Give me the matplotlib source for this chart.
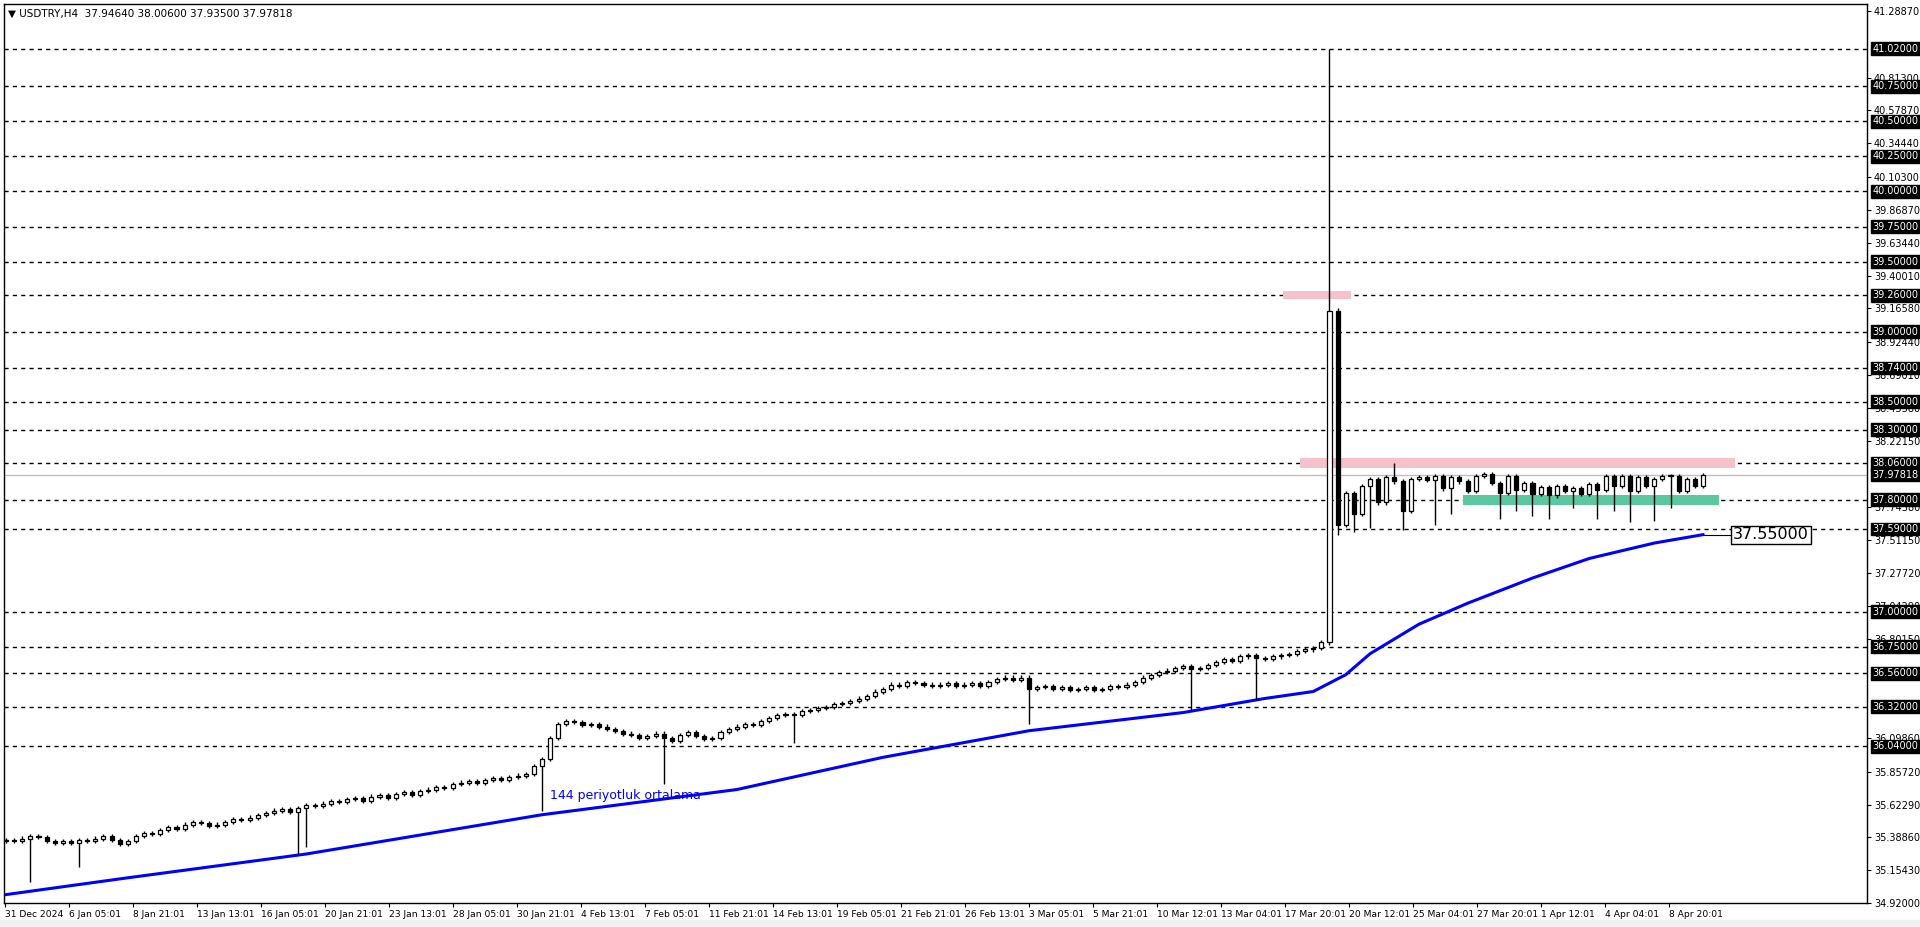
import numpy as np
import matplotlib.pyplot as plt
from matplotlib.patches import Rectangle

# H4 closes (one bar per index), open = previous close
closes = [
    35.37, 35.36, 35.38, 35.40, 35.39, 35.36, 35.35, 35.36,
    35.35, 35.37, 35.36, 35.38, 35.40, 35.37, 35.34, 35.36,
    35.40, 35.42, 35.41, 35.44, 35.46, 35.45, 35.48, 35.50,
    35.49, 35.47, 35.48, 35.50, 35.52, 35.51, 35.53, 35.55,
    35.56, 35.58, 35.59, 35.57, 35.60, 35.62, 35.61, 35.63,
    35.65, 35.64, 35.66, 35.67, 35.65, 35.68, 35.69, 35.67,
    35.70, 35.71, 35.69, 35.72, 35.73, 35.75, 35.74, 35.77,
    35.78, 35.79, 35.78, 35.80, 35.81, 35.80, 35.82, 35.83,
    35.84, 35.90, 35.95, 36.10, 36.20, 36.22, 36.21, 36.19,
    36.20, 36.18, 36.16, 36.15, 36.13, 36.12, 36.10, 36.11,
    36.13, 36.10, 36.08, 36.12, 36.14, 36.11, 36.09, 36.10,
    36.14, 36.16, 36.18, 36.20, 36.19, 36.22, 36.24, 36.26,
    36.27, 36.26, 36.29, 36.30, 36.31, 36.32, 36.34, 36.35,
    36.36, 36.38, 36.40, 36.43, 36.45, 36.48, 36.47, 36.50,
    36.49, 36.48, 36.47, 36.48, 36.49, 36.47, 36.48, 36.49,
    36.47, 36.50, 36.52, 36.53, 36.51, 36.53, 36.45, 36.46,
    36.47, 36.45, 36.46, 36.44, 36.45, 36.46, 36.44, 36.45,
    36.47, 36.46, 36.48, 36.50, 36.53, 36.55, 36.57, 36.58,
    36.60, 36.61, 36.59, 36.60, 36.62, 36.64, 36.66, 36.65,
    36.68, 36.69, 36.67, 36.66, 36.68, 36.69, 36.70, 36.72,
    36.73, 36.74, 36.78, 39.15,
    37.62, 37.85, 37.70, 37.90, 37.95, 37.78, 37.96, 37.93, 37.72, 37.95,
    37.96, 37.94, 37.97, 37.88, 37.96, 37.93, 37.86, 37.97, 37.98, 37.92,
    37.85, 37.97, 37.87, 37.92, 37.84, 37.89, 37.83, 37.90, 37.86, 37.88,
    37.84, 37.91, 37.87, 37.97, 37.90, 37.97, 37.86, 37.96, 37.90, 37.95,
    37.97, 37.97, 37.86, 37.95, 37.90, 37.978,
]
first_open = 35.36

# long wicks: index -> (high, low); None keeps the body edge
wicks = {
    3: (None, 35.07), 9: (None, 35.18), 36: (None, 35.27), 37: (None, 35.32),
    66: (None, 35.58), 81: (None, 35.77), 97: (None, 36.06), 126: (None, 36.20),
    146: (None, 36.29), 154: (None, 36.37), 163: (41.02, None), 164: (None, 37.55),
    166: (None, 37.57), 168: (None, 37.60), 171: (38.06, None), 172: (None, 37.58),
    176: (None, 37.62), 178: (None, 37.70), 184: (None, 37.66), 186: (None, 37.72),
    188: (None, 37.68), 190: (None, 37.66), 193: (None, 37.74), 196: (None, 37.66),
    198: (None, 37.72), 200: (None, 37.64), 203: (None, 37.65), 205: (None, 37.74),
}

# 144 period moving average
ma_idx = [0, 15, 37, 66, 90, 108, 126, 145, 155, 161, 165, 168, 174, 180, 188, 195, 203, 209]
ma_val = [34.98, 35.10, 35.27, 35.55, 35.73, 35.96, 36.15, 36.28, 36.38, 36.43,
          36.55, 36.70, 36.91, 37.06, 37.24, 37.38, 37.49, 37.55]

levels = [41.02, 40.75, 40.50, 40.25, 40.00, 39.75, 39.50, 39.26, 39.00, 38.74,
          38.50, 38.30, 38.06, 37.80, 37.59, 37.00, 36.75, 36.56, 36.32, 36.04]
scale_ticks = [41.2887, 40.8130, 40.5787, 40.3444, 40.1030, 39.8687, 39.6344, 39.4001,
               39.1658, 38.9244, 38.6901, 38.4558, 38.2215, 37.7458, 37.5115, 37.2772,
               37.0429, 36.8015, 36.0986, 35.8572, 35.6229, 35.3886, 35.1543, 34.9200]
last_price = 37.97818

date_labels = ["31 Dec 2024", "6 Jan 05:01", "8 Jan 21:01", "13 Jan 13:01", "16 Jan 05:01",
               "20 Jan 21:01", "23 Jan 13:01", "28 Jan 05:01", "30 Jan 21:01", "4 Feb 13:01",
               "7 Feb 05:01", "11 Feb 21:01", "14 Feb 13:01", "19 Feb 05:01", "21 Feb 21:01",
               "26 Feb 13:01", "3 Mar 05:01", "5 Mar 21:01", "10 Mar 12:01", "13 Mar 04:01",
               "17 Mar 20:01", "20 Mar 12:01", "25 Mar 04:01", "27 Mar 20:01", "1 Apr 12:01",
               "4 Apr 04:01", "8 Apr 20:01"]

W, H = 1920, 927
fig = plt.figure(figsize=(W / 100, H / 100), dpi=100)
fig.patch.set_facecolor("white")
ax = fig.add_axes([4 / W, (H - 903) / H, 1863 / W, 899 / H])
px = (1703 - 6) / 209  # pixels per bar
ax.set_xlim(-2 / px, 209 + (1867 - 1703) / px)
ax.set_ylim(34.92, 41.2887 + 7 * 0.00714)

for lv in levels:
    ax.axhline(lv, color="black", lw=1, ls=(0, (3, 3)), zorder=1)
ax.axhline(last_price, color="#c0c0c0", lw=1, zorder=1)

# zones
ax.add_patch(Rectangle((157.3, 39.26 - 0.03), 8.3, 0.06, color="#f7c1cb", zorder=2, lw=0))
ax.add_patch(Rectangle((159.4, 38.06 - 0.035), 53.6, 0.07, color="#f7c1cb", zorder=2, lw=0))
ax.add_patch(Rectangle((179.4, 37.80 - 0.035), 31.6, 0.07, color="#5cc8a0", zorder=2, lw=0))

# candles
opens = [first_open] + closes[:-1]
for i, (o, c) in enumerate(zip(opens, closes)):
    hi, lo = max(o, c) + 0.015, min(o, c) - 0.015
    if i in wicks:
        h2, l2 = wicks[i]
        hi = h2 if h2 is not None else hi
        lo = l2 if l2 is not None else lo
    ax.vlines(i, lo, hi, color="black", lw=1, zorder=4)
    bot, ht = min(o, c), max(abs(c - o), 0.004)
    ax.add_patch(Rectangle((i - 0.25, bot), 0.5, ht, facecolor="white" if c >= o else "black",
                           edgecolor="black", lw=0.9, zorder=5))

ax.plot(ma_idx, ma_val, color="#0000ff", lw=2.2, zorder=3)
ax.text(67, 35.66, "144 periyotluk ortalama", color="#0000ff", fontsize=9, zorder=6)
ax.plot([209, 212.6], [37.55, 37.55], color="black", lw=0.8, clip_on=False, zorder=6)
ax.text(212.7, 37.55, "37.55000", fontsize=11.5, va="center", ha="left", zorder=7,
        bbox=dict(boxstyle="square,pad=0.1", fc="white", ec="black", lw=1))

# right price scale
ax.yaxis.tick_right()
ax.set_yticks(scale_ticks)
ax.set_yticklabels([f"{v:.5f}" for v in scale_ticks], fontsize=7)
ax.tick_params(axis="y", length=3, pad=2)
for lv in levels + [last_price]:
    ax.text(1.003, lv, f"{lv:.5f}", transform=ax.get_yaxis_transform(), fontsize=7,
            color="white", va="center", ha="left", zorder=10,
            bbox=dict(boxstyle="square,pad=0.15", fc="black", ec="black"))

# time scale
tick_px = [5 + 64 * k for k in range(len(date_labels))]
ax.set_xticks([(p - 6) / px for p in tick_px])
ax.set_xticklabels(date_labels, fontsize=6.6, ha="left")
ax.tick_params(axis="x", length=3, pad=2)

for s in ax.spines.values():
    s.set_color("black")
    s.set_linewidth(1)

fig.text(8 / W, 1 - 14 / H, "\u25bc USDTRY,H4  37.94640 38.00600 37.93500 37.97818",
         fontsize=7.5, va="center")
fig.patches.append(Rectangle((0, 0), 1, 7 / H, transform=fig.transFigure,
                             color="#f0f0f0", zorder=0))

fig.savefig("out.png", dpi=100)
